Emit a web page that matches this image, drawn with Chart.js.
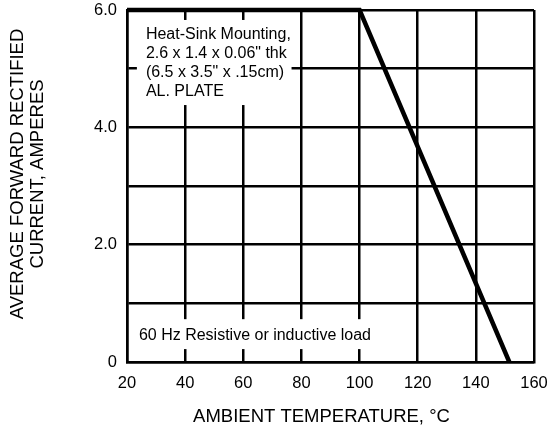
<!DOCTYPE html>
<html><head><meta charset="utf-8">
<script src="https://cdn.jsdelivr.net/npm/chart.js@4"></script>
<style>html,body{margin:0;padding:0;background:#fff}#wrap{width:552px;height:430px}</style>
</head><body><div id="wrap"><canvas id="c" width="552" height="430"></canvas></div>
<script>
const temperatureC = [20, 100, 151.5];
const currentA = [6.0, 6.0, 0];
const yTickLabels = {0: '0', 2: '2.0', 4: '4.0', 6: '6.0'};
const yTitleLines = ['AVERAGE FORWARD RECTIFIED', 'CURRENT, AMPERES'];
const xTitle = 'AMBIENT TEMPERATURE, \u00B0C';
const noteHeatSink = ['Heat-Sink Mounting,', '2.6 x 1.4 x 0.06" thk', '(6.5 x 3.5" x .15cm)', 'AL. PLATE'];
const noteLoad = '60 Hz Resistive or inductive load';

const FONT = '"Liberation Sans", Arial, Helvetica, sans-serif';

const annot = {
  id: 'annot',
  beforeDatasetsDraw(chart) {
    const {ctx, scales: {x, y}} = chart;
    ctx.save();
    let x1 = x.getPixelForValue(23.4), x2 = x.getPixelForValue(76.6);
    let y1 = y.getPixelForValue(5.83), y2 = y.getPixelForValue(4.38);
    ctx.fillStyle = '#fff';
    ctx.fillRect(x1, y1, x2 - x1, y2 - y1);
    ctx.fillStyle = '#000';
    ctx.font = '16px ' + FONT;
    ctx.textAlign = 'left';
    ctx.textBaseline = 'middle';
    noteHeatSink.forEach((t, i) => ctx.fillText(t, x1 + 9, y1 + 15 + i * 19));
    x1 = x.getPixelForValue(23.4); x2 = x.getPixelForValue(105.3);
    y1 = y.getPixelForValue(0.73); y2 = y.getPixelForValue(0.22);
    ctx.fillStyle = '#fff';
    ctx.fillRect(x1, y1, x2 - x1, y2 - y1);
    ctx.fillStyle = '#000';
    ctx.fillText(noteLoad, x1 + 2, (y1 + y2) / 2 + 1);
    ctx.restore();
  },
  afterDraw(chart) {
    const {ctx} = chart;
    ctx.save();
    ctx.fillStyle = '#000';
    ctx.font = '18.5px ' + FONT;
    ctx.textAlign = 'center';
    ctx.textBaseline = 'middle';
    ctx.fillText(xTitle, 321.5, 417);
    ctx.translate(0, 174);
    ctx.rotate(-Math.PI / 2);
    ctx.fillText(yTitleLines[0], 0, 18);
    ctx.fillText(yTitleLines[1], 0, 37.5);
    ctx.restore();
  }
};

new Chart(document.getElementById('c'), {
  type: 'line',
  data: {
    datasets: [{
      data: temperatureC.map((t, i) => ({x: t, y: currentA[i]})),
      borderColor: '#000',
      borderWidth: 4.5,
      pointRadius: 0,
      tension: 0,
      fill: false,
      clip: {left: 0, top: false, right: 0, bottom: 0}
    }]
  },
  options: {
    responsive: false,
    animation: false,
    devicePixelRatio: 1,
    layout: {padding: {top: 10, right: 18, left: 0, bottom: 0}},
    plugins: {legend: {display: false}, tooltip: {enabled: false}},
    scales: {
      x: {
        type: 'linear', min: 20, max: 160,
        afterFit(s) { s.height = 68; s.paddingLeft = 0; s.paddingRight = 0; },
        ticks: {stepSize: 20, color: '#000', padding: 12, font: {size: 16.5, family: FONT}, maxRotation: 0},
        grid: {color: '#000', lineWidth: 2.5, drawTicks: false},
        border: {color: '#000', width: 2.5}
      },
      y: {
        type: 'linear', min: 0, max: 6,
        afterFit(s) { s.width = 127; s.paddingTop = 0; s.paddingBottom = 0; },
        ticks: {stepSize: 1, color: '#000', padding: 10, font: {size: 16.5, family: FONT},
          callback: v => (yTickLabels[v] !== undefined ? yTickLabels[v] : '')},
        grid: {color: '#000', lineWidth: 2.5, drawTicks: false},
        border: {color: '#000', width: 2.5}
      }
    }
  },
  plugins: [annot]
});
</script></body></html>
